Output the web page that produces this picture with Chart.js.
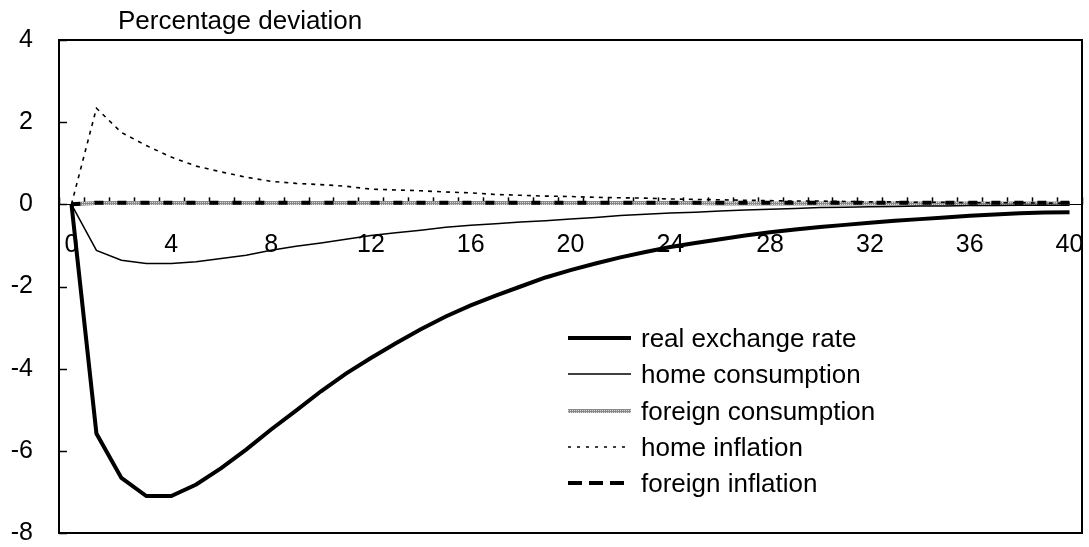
<!DOCTYPE html>
<html>
<head>
<meta charset="utf-8">
<script src="https://cdn.jsdelivr.net/npm/chart.js@4.4.1/dist/chart.umd.min.js"></script>
<style>
  html, body { margin: 0; padding: 0; background: #fff; overflow: hidden; }
  #wrap { width: 1089px; height: 547px; }
</style>
</head>
<body>
<div id="wrap"><canvas id="irfChart"></canvas></div>
<script>
// quarters after the shock
const periods = [
    '0', '1', '2', '3', '4', '5', '6', '7', '8', '9', '10',
    '11', '12', '13', '14', '15', '16', '17', '18', '19', '20',
    '21', '22', '23', '24', '25', '26', '27', '28', '29', '30',
    '31', '32', '33', '34', '35', '36', '37', '38', '39', '40'
];

const realExchangeRate = [
    0, -5.58, -6.66, -7.10, -7.10, -6.82, -6.42, -5.97, -5.48, -5.02, -4.55,
    -4.12, -3.74, -3.38, -3.04, -2.73, -2.46, -2.22, -2.00, -1.78, -1.60,
    -1.44, -1.29, -1.16, -1.04, -0.94, -0.85, -0.76, -0.68, -0.61, -0.55,
    -0.50, -0.45, -0.40, -0.36, -0.32, -0.28, -0.25, -0.22, -0.20, -0.19
];

const homeConsumption = [
    0, -1.12, -1.36, -1.44, -1.44, -1.40, -1.32, -1.24, -1.12, -1.02, -0.94,
    -0.85, -0.76, -0.69, -0.63, -0.56, -0.51, -0.47, -0.43, -0.40, -0.36,
    -0.32, -0.27, -0.24, -0.21, -0.19, -0.16, -0.14, -0.12, -0.10, -0.08,
    -0.07, -0.06, -0.05, -0.04, -0.04, -0.03, -0.03, -0.02, -0.02, -0.02
];

const foreignConsumption = [
    0, 0.03, 0.03, 0.03, 0.03, 0.03, 0.03, 0.03, 0.03, 0.03, 0.03,
    0.03, 0.03, 0.03, 0.03, 0.03, 0.03, 0.03, 0.03, 0.03, 0.03,
    0.03, 0.03, 0.03, 0.03, 0.03, 0.02, 0.02, 0.02, 0.02, 0.02,
    0.02, 0.02, 0.02, 0.02, 0.02, 0.02, 0.02, 0.02, 0.02, 0.02
];

const homeInflation = [
    0, 2.34, 1.75, 1.43, 1.15, 0.93, 0.79, 0.66, 0.56, 0.51, 0.48,
    0.44, 0.37, 0.35, 0.33, 0.30, 0.28, 0.24, 0.22, 0.20, 0.19,
    0.17, 0.16, 0.15, 0.13, 0.12, 0.11, 0.10, 0.09, 0.08, 0.08,
    0.07, 0.06, 0.06, 0.05, 0.05, 0.04, 0.04, 0.04, 0.03, 0.03
];

const foreignInflation = [
    0, 0.04, 0.04, 0.04, 0.04, 0.04, 0.04, 0.04, 0.04, 0.04, 0.04,
    0.04, 0.04, 0.04, 0.04, 0.04, 0.04, 0.04, 0.04, 0.04, 0.04,
    0.04, 0.04, 0.04, 0.04, 0.04, 0.04, 0.04, 0.04, 0.04, 0.04,
    0.04, 0.04, 0.04, 0.04, 0.04, 0.04, 0.04, 0.04, 0.04, 0.04
];

const yTicks = [4, 2, 0, -2, -4, -6, -8];

const FONT = '"Liberation Sans", Arial, sans-serif';

buildIrfChart();

// grey stippled stroke for foreign consumption
function makeStipple() {
    const c = document.createElement('canvas');
    c.width = 4;
    c.height = 4;
    const g = c.getContext('2d');
    g.fillStyle = '#8a8a8a';
    g.fillRect(0, 0, 4, 4);
    g.fillStyle = '#d8d8d8';
    g.fillRect(0, 0, 1, 1);
    g.fillRect(2, 2, 1, 1);
    g.fillRect(2, 0, 1, 1);
    g.fillRect(0, 2, 1, 1);
    return g.createPattern(c, 'repeat');
}

// axes must not push the plot area around
function noPadding(scale) {
    scale.paddingLeft = 0;
    scale.paddingRight = 0;
    scale.paddingTop = 0;
    scale.paddingBottom = 0;
}

function buildIrfChart() {
    const ctx = document.getElementById('irfChart');
    const stipple = makeStipple();

    const decorations = {
        id: 'decorations',
        beforeDatasetsDraw(chart) {
            const c = chart.ctx;
            const area = chart.chartArea;
            const x = chart.scales.x;
            const y = chart.scales.y;
            c.save();
            c.strokeStyle = '#000';
            c.lineWidth = 1.5;
            // y tick marks pointing into the plot
            yTicks.forEach(v => {
                const py = Math.round(y.getPixelForValue(v)) + 0.5;
                c.beginPath();
                c.moveTo(area.left, py);
                c.lineTo(area.left + 8, py);
                c.stroke();
            });
            // x tick marks between categories, standing on the zero line
            const zero = y.getPixelForValue(0);
            const step = x.getPixelForValue(1) - x.getPixelForValue(0);
            for (let i = 0; i <= periods.length; i++) {
                const px = Math.round(x.getPixelForValue(0) - step / 2 + i * step) + 0.5;
                c.beginPath();
                c.moveTo(px, zero);
                c.lineTo(px, zero - 7);
                c.stroke();
            }
            c.restore();
        },
        afterDraw(chart) {
            const c = chart.ctx;
            const area = chart.chartArea;
            c.save();
            // frame
            c.strokeStyle = '#000';
            c.lineWidth = 2;
            c.strokeRect(area.left, area.top, area.right - area.left, area.bottom - area.top);

            // axis title
            c.fillStyle = '#000';
            c.font = '26px ' + FONT;
            c.textAlign = 'left';
            c.textBaseline = 'alphabetic';
            c.fillText('Percentage deviation', 118, 29);

            // legend inside the plot
            const rowY = [338, 374, 411, 447, 483];
            chart.data.datasets.forEach((ds, i) => {
                const ly = rowY[i];
                c.save();
                c.strokeStyle = ds.borderColor;
                c.lineWidth = ds.borderWidth;
                c.setLineDash(ds.legendDash || ds.borderDash || []);
                c.beginPath();
                c.moveTo(568, ly);
                c.lineTo(631, ly);
                c.stroke();
                c.restore();
                c.fillStyle = '#000';
                c.font = '26px ' + FONT;
                c.textBaseline = 'middle';
                c.fillText(ds.label, 641, ly + 2);
            });
            c.restore();
        }
    };

    new Chart(ctx, {
        type: 'line',
        data: {
            labels: periods,
            datasets: [
                {
                    label: 'real exchange rate',
                    data: realExchangeRate,
                    borderColor: '#000',
                    borderWidth: 4,
                    order: 0
                },
                {
                    label: 'home consumption',
                    data: homeConsumption,
                    borderColor: '#000',
                    borderWidth: 1.5,
                    order: 1
                },
                {
                    label: 'foreign consumption',
                    data: foreignConsumption,
                    borderColor: stipple,
                    borderWidth: 4,
                    order: 4
                },
                {
                    label: 'home inflation',
                    data: homeInflation,
                    borderColor: '#000',
                    borderWidth: 1.6,
                    borderDash: [4, 5],
                    legendDash: [3, 6],
                    order: 2
                },
                {
                    label: 'foreign inflation',
                    data: foreignInflation,
                    borderColor: '#000',
                    borderWidth: 4,
                    borderDash: [9, 14],
                    legendDash: [14, 7],
                    order: 3
                }
            ]
        },
        options: {
            responsive: true,
            maintainAspectRatio: false,
            animation: false,
            layout: {
                padding: { left: 0, top: 40, right: 7, bottom: 14 }
            },
            elements: {
                point: { radius: 0 },
                line: { tension: 0, fill: false }
            },
            scales: {
                x: {
                    type: 'category',
                    offset: true,
                    position: { y: 0 },
                    afterFit(scale) { scale.height = 0; noPadding(scale); },
                    grid: { display: false, drawTicks: false },
                    border: { display: true, color: '#000', width: 1 },
                    ticks: {
                        autoSkip: false,
                        maxRotation: 0,
                        padding: 26,
                        color: '#000',
                        font: { family: FONT, size: 25 },
                        callback: function (value, index) {
                            return index % 4 === 0 ? periods[index] : '';
                        }
                    }
                },
                y: {
                    min: -8,
                    max: 4,
                    afterFit(scale) { scale.width = 59; noPadding(scale); },
                    grid: { display: false, drawTicks: false },
                    border: { display: false },
                    ticks: {
                        stepSize: 2,
                        padding: 26,
                        color: '#000',
                        font: { family: FONT, size: 25 }
                    }
                }
            },
            plugins: {
                legend: { display: false },
                tooltip: { enabled: false },
                title: { display: false }
            }
        },
        plugins: [decorations]
    });
}
</script>
</body>
</html>
